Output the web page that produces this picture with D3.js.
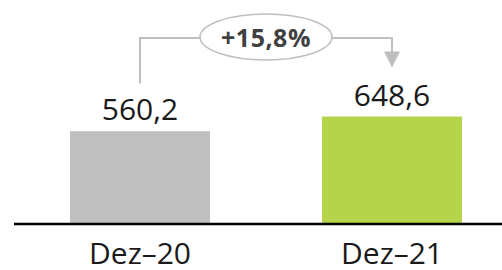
<!DOCTYPE html>
<html>
<head>
<meta charset="utf-8">
<script src="https://cdnjs.cloudflare.com/ajax/libs/d3/7.8.5/d3.min.js"></script>
<style>
  body{margin:0;background:#fff;}
  svg{display:block;}
</style>
</head>
<body>
<script>
// dados
let categorias = ["Dez-20", "Dez-21"];
let rotulos = ["Dez\u201320", "Dez\u201321"];
let valores = [560.2, 648.6];
let cores = ["#bfbfbf", "#b5d44a"];
let variacao = "+15,8%";

let width = 502, height = 270;
let svg = d3.select("body").append("svg")
    .attr("width", width)
    .attr("height", height);

// escalas
let x = d3.scaleBand()
    .domain(categorias)
    .range([14, 518])
    .paddingInner(0.4444)
    .paddingOuter(0.2222);
let y = d3.scaleLinear()
    .domain([0, 700])
    .range([224, 108]);

let fmt = function(v){ return d3.format(".1f")(v).replace(".", ","); };

// barras
svg.selectAll("rect.bar").data(valores).enter().append("rect")
    .attr("class", "bar")
    .attr("x", function(d,i){ return x(categorias[i]); })
    .attr("y", function(d){ return y(d); })
    .attr("width", x.bandwidth())
    .attr("height", function(d){ return y(0) - y(d); })
    .style("fill", function(d,i){ return cores[i]; });

// valores
svg.selectAll("text.val").data(valores).enter().append("text")
    .attr("class", "val")
    .attr("x", function(d,i){ return x(categorias[i]) + x.bandwidth()/2; })
    .attr("y", function(d){ return y(d) - 11; })
    .attr("text-anchor", "middle")
    .style("font-family", "'Open Sans', sans-serif")
    .style("font-size", "30px")
    .style("fill", "#1a1a1a")
    .text(fmt);

// eixo x
let eixo = svg.append("g")
    .attr("transform", "translate(0," + y(0) + ")")
    .call(d3.axisBottom(x).tickSize(0).tickPadding(19).tickFormat(function(d,i){ return rotulos[i]; }));
eixo.select(".domain").attr("d", "M14,0H502").style("stroke", "#000").style("stroke-width", 2.5);
eixo.selectAll("text")
    .style("font-family", "'Open Sans', sans-serif")
    .style("font-size", "30px")
    .style("fill", "#1a1a1a");

// seta de variacao
let cx1 = x(categorias[0]) + x.bandwidth()/2;
let cx2 = x(categorias[1]) + x.bandwidth()/2;
let topo = 38;
let cinza = "#bfbfbf";
svg.append("path")
    .attr("d", "M" + cx1 + "," + (y(valores[0]) - 48) + "V" + topo + "H" + cx2 + "V" + (y(valores[1]) - 62))
    .style("fill", "none")
    .style("stroke", cinza)
    .style("stroke-width", 2);
let tip = y(valores[1]) - 49;
svg.append("path")
    .attr("d", "M" + (cx2 - 8) + "," + (tip - 16) + "L" + (cx2 + 8) + "," + (tip - 16) + "L" + cx2 + "," + tip + "Z")
    .style("fill", cinza);

let ex = (cx1 + cx2)/2;
svg.append("ellipse")
    .attr("cx", ex)
    .attr("cy", 37)
    .attr("rx", 66)
    .attr("ry", 23)
    .style("fill", "#fff")
    .style("stroke", cinza)
    .style("stroke-width", 1.5);
svg.append("text")
    .attr("x", ex)
    .attr("y", 47)
    .attr("text-anchor", "middle")
    .style("font-family", "'Open Sans', sans-serif")
    .style("font-size", "25px")
    .style("font-weight", "bold")
    .style("letter-spacing", "0.5px")
    .style("fill", "#404040")
    .text(variacao);
</script>
</body>
</html>
